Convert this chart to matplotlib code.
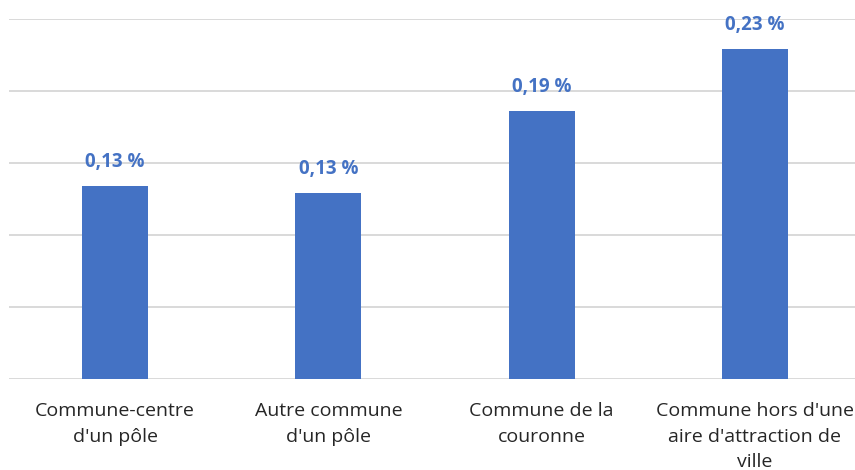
import matplotlib

matplotlib.use("Agg")
import matplotlib.pyplot as plt

CATEGORIES = [
    "Commune-centre\nd'un pôle",
    "Autre commune\nd'un pôle",
    "Commune de la\ncouronne",
    "Commune hors d'une\naire d'attraction de\nville",
]
VALUES = [0.134, 0.129, 0.186, 0.229]
LABELS = ["0,13 %", "0,13 %", "0,19 %", "0,23 %"]
GRID_TICKS = [0.0, 0.05, 0.10, 0.15, 0.20, 0.25]

BAR = "#4472C4"
GRID = "#D9D9D9"
TEXT = "#262626"

plt.rcParams["font.family"] = ["Liberation Sans Narrow", "Open Sans", "DejaVu Sans"]

figure = plt.figure(figsize=(8.55, 4.7), dpi=100)
axis = figure.add_axes([8.5 / 855, 91 / 470, (855 - 8.5) / 855, 0.767])

positions = range(len(CATEGORIES))
axis.bar(positions, VALUES, width=0.31, color=BAR, zorder=3)
axis.set_xlim(-0.5, 3.47)
axis.set_ylim(0, 0.25)
axis.set_yticks(GRID_TICKS)
axis.yaxis.grid(True, color=GRID, linewidth=1.4, zorder=0)
axis.tick_params(axis="y", left=False, labelleft=False)
axis.tick_params(axis="x", bottom=False, pad=13, labelsize=14, labelcolor=TEXT)
axis.set_xticks(list(positions), CATEGORIES, linespacing=1.55, va="top")
for spine in axis.spines.values():
    spine.set_visible(False)

for pos, value, label in zip(positions, VALUES, LABELS):
    axis.annotate(label, (pos, value), xytext=(0, 17), textcoords="offset points",
                  ha="center", va="center", color=BAR, fontsize=13.5, fontweight="bold",
                  family=["Open Sans", "DejaVu Sans"])

figure.savefig("out.png", dpi=100)
